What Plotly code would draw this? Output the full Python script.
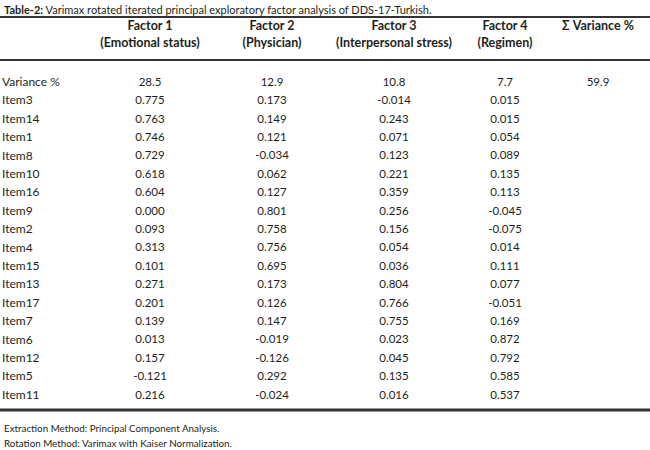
import plotly.graph_objects as go

# table content
items = ["Variance %", "Item3", "Item14", "Item1", "Item8", "Item10", "Item16", "Item9",
         "Item2", "Item4", "Item15", "Item13", "Item17", "Item7", "Item6", "Item12",
         "Item5", "Item11"]

factor_titles = ["Factor 1", "Factor 2", "Factor 3", "Factor 4", "\u03a3 Variance %"]
factor_names = ["(Emotional status)", "(Physician)", "(Interpersonal stress)", "(Regimen)", ""]

variance = [28.5, 12.9, 10.8, 7.7]
total_variance = 59.9

f1 = [0.775, 0.763, 0.746, 0.729, 0.618, 0.604, 0.000, 0.093, 0.313, 0.101, 0.271,
      0.201, 0.139, 0.013, 0.157, -0.121, 0.216]
f2 = [0.173, 0.149, 0.121, -0.034, 0.062, 0.127, 0.801, 0.758, 0.756, 0.695, 0.173,
      0.126, 0.147, -0.019, -0.126, 0.292, -0.024]
f3 = [-0.014, 0.243, 0.071, 0.123, 0.221, 0.359, 0.256, 0.156, 0.054, 0.036, 0.804,
      0.766, 0.755, 0.023, 0.045, 0.135, 0.016]
f4 = [0.015, 0.015, 0.054, 0.089, 0.135, 0.113, -0.045, -0.075, 0.014, 0.111, 0.077,
      -0.051, 0.169, 0.872, 0.792, 0.585, 0.537]

title_bold = "Table-2:"
title_rest = " Varimax rotated iterated principal exploratory factor analysis of DDS-17-Turkish."
notes = ["Extraction Method: Principal Component Analysis.",
         "Rotation Method: Varimax with Kaiser Normalization."]

# layout (pixels)
W, H = 650, 450
col_x = [150, 272, 394, 505, 598]
row_h = 18.4
first_row = 83

FONT = "Lato, 'Open Sans', sans-serif"
INK = "#231f20"

def to_row(px):
    return (px - first_row) / row_h

rows = list(range(len(items)))
fig = go.Figure()

# row labels
fig.add_trace(go.Scatter(x=[2] * len(items), y=rows, text=items, mode="text",
                         textposition="middle right", cliponaxis=False,
                         textfont=dict(family=FONT, size=12, color=INK)))

# factor columns
for i, vals in enumerate([f1, f2, f3, f4]):
    txt = [f"{variance[i]:.1f}"] + [f"{v:.3f}" for v in vals]
    fig.add_trace(go.Scatter(x=[col_x[i]] * len(txt), y=rows, text=txt, mode="text",
                             textposition="middle center", cliponaxis=False,
                             textfont=dict(family=FONT, size=11.5, color=INK)))

fig.add_trace(go.Scatter(x=[col_x[4]], y=[0], text=[f"{total_variance:.1f}"], mode="text",
                         textposition="middle center", cliponaxis=False,
                         textfont=dict(family=FONT, size=11.5, color=INK)))

# header
fig.add_trace(go.Scatter(x=col_x, y=[to_row(27)] * 5,
                         text=[f"<b>{t}</b>" for t in factor_titles], mode="text",
                         textposition="middle center", cliponaxis=False,
                         textfont=dict(family=FONT, size=12.5, color=INK)))
fig.add_trace(go.Scatter(x=col_x[:4], y=[to_row(44)] * 4,
                         text=[f"<b>{t}</b>" for t in factor_names[:4]], mode="text",
                         textposition="middle center", cliponaxis=False,
                         textfont=dict(family=FONT, size=12.5, color=INK)))

# rules
shapes = []
for y_px, w in [(17, 2), (60, 2), (410, 3)]:
    shapes.append(dict(type="line", xref="x", yref="y", x0=0, x1=W,
                       y0=to_row(y_px), y1=to_row(y_px),
                       line=dict(color="#333333", width=w)))

annotations = [
    dict(x=2, y=to_row(9), xref="x", yref="y", xanchor="left", yanchor="middle",
         text=f"<b>{title_bold}</b>{title_rest}", showarrow=False,
         font=dict(family=FONT, size=11, color=INK)),
    dict(x=2, y=to_row(428), xref="x", yref="y", xanchor="left", yanchor="middle",
         text=notes[0], showarrow=False, font=dict(family=FONT, size=9.8, color=INK)),
    dict(x=2, y=to_row(443), xref="x", yref="y", xanchor="left", yanchor="middle",
         text=notes[1], showarrow=False, font=dict(family=FONT, size=9.8, color=INK)),
]

fig.update_layout(
    width=W, height=H,
    margin=dict(l=0, r=0, t=0, b=0),
    paper_bgcolor="white", plot_bgcolor="white",
    showlegend=False,
    shapes=shapes, annotations=annotations,
    xaxis=dict(range=[0, W], visible=False, fixedrange=True),
    yaxis=dict(range=[to_row(H), to_row(0)], visible=False, fixedrange=True),
)

# drop the default 8px page margin so the table sits flush like the scan
fig.write_html("out.html", config={"displayModeBar": False},
               post_script="document.body.style.margin='0';")
